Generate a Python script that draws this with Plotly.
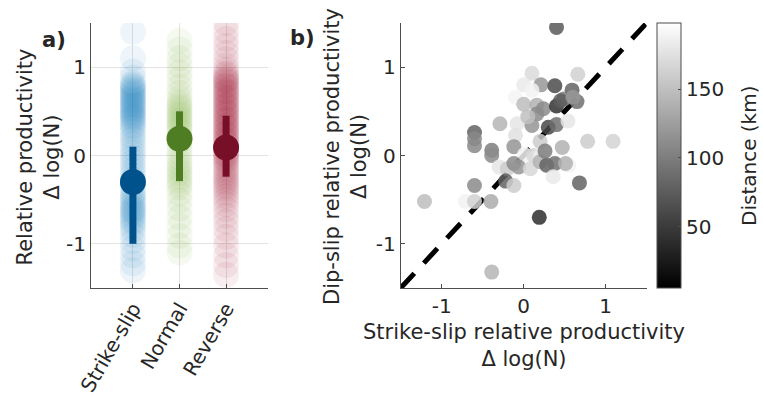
import plotly.graph_objects as go

W, H = 763, 396

# ---------------- Panel a data ----------------
categories = ["Strike-slip", "Normal", "Reverse"]
cat_pos = [1, 2, 3]

strike_slip_vals = [1.40, 1.10, 0.95, 0.88,
                    0.82, 0.80, 0.78, 0.76, 0.74, 0.72, 0.70, 0.68, 0.66, 0.64, 0.62, 0.60,
                    0.58, 0.56, 0.54, 0.52, 0.50, 0.48, 0.46, 0.44, 0.42, 0.40, 0.37, 0.34,
                    0.31, 0.27, 0.22, 0.18, 0.13, 0.08, 0.03, -0.02, -0.07, -0.12, -0.17,
                    -0.22, -0.27, -0.32, -0.37, -0.42, -0.45, -0.48, -0.51, -0.54, -0.57,
                    -0.60, -0.62, -0.64, -0.67, -0.70, -0.73, -0.76, -0.80, -0.84,
                    -0.90, -0.97, -1.05, -1.13, -1.22, -1.30]
normal_vals = [1.30, 1.20, 1.10, 1.02, 0.94, 0.86, 0.78, 0.71, 0.65,
               0.60, 0.57, 0.54, 0.51, 0.48, 0.45, 0.42, 0.39, 0.36, 0.33, 0.30, 0.27,
               0.22, 0.16, 0.10, 0.04, -0.02,
               -0.08, -0.12, -0.16, -0.20, -0.24, -0.28, -0.32, -0.36,
               -0.43, -0.51, -0.60, -0.70, -0.80, -0.91, -1.02, -1.10]
reverse_vals = [1.50, 1.41, 1.32, 1.24, 1.16, 1.09, 1.02, 0.97,
                0.93, 0.91, 0.88, 0.86, 0.85, 0.83, 0.80, 0.79, 0.77, 0.74, 0.73, 0.71,
                0.69, 0.66, 0.65, 0.63, 0.61, 0.58, 0.57, 0.55, 0.53, 0.50, 0.49, 0.47,
                0.45, 0.42, 0.41, 0.39, 0.37, 0.34, 0.33, 0.31, 0.29, 0.26, 0.25, 0.23,
                0.21, 0.18, 0.17, 0.15, 0.13, 0.10, 0.09, 0.07, 0.05, 0.02, 0.01, -0.01,
                -0.04, -0.05, -0.08, -0.11, -0.14, -0.17, -0.20, -0.23, -0.26, -0.29,
                -0.32, -0.35, -0.38, -0.42, -0.46, -0.50,
                -0.55, -0.61, -0.68, -0.75, -0.83, -0.92, -1.02, -1.13, -1.24, -1.35]
group_means = [-0.30, 0.19, 0.09]
group_lo = [-1.00, -0.29, -0.24]
group_hi = [0.10, 0.50, 0.45]

light_colors = ["rgb(0,114,189)", "rgb(119,172,48)", "rgb(162,20,47)"]
dark_colors = ["rgb(0,82,140)", "rgb(79,125,35)", "rgb(120,15,40)"]

# ---------------- Panel b data ----------------
ss_x = [0.40, 0.10, 0.66, 0.21, 0.38, 0.00, 0.10, 0.59, -0.10, 0.00, 0.16, 0.24, 0.40, 0.49,
        0.65, 0.16, -0.29, -0.08, 0.10, 0.30, 0.40, 0.54, -0.60, -0.60, -0.60, -0.10, 0.20,
        0.78, 1.09, -0.39, -0.39, -0.12, 0.01, 0.12, 0.21, 0.47, -0.30, -0.20, -0.12, -0.06,
        0.08, 0.20, 0.28, 0.38, 0.55, 0.51, 0.36, -0.22, -0.12, -0.60, 0.68, -1.21, -0.71,
        -0.60, -0.40, 0.19, -0.39, 0.45, 0.60, 0.05, 0.26]
ds_y = [1.45, 0.93, 0.92, 0.80, 0.79, 0.80, 0.74, 0.74, 0.66, 0.58, 0.57, 0.53, 0.56, 0.64,
        0.61, 0.47, 0.36, 0.36, 0.34, 0.32, 0.35, 0.39, 0.26, 0.19, 0.11, 0.23, 0.16, 0.16,
        0.16, 0.06, 0.00, 0.10, 0.01, 0.00, 0.00, 0.09, -0.13, -0.15, -0.09, -0.13, -0.15,
        -0.07, -0.11, -0.09, -0.11, -0.09, -0.24, -0.29, -0.34, -0.34, -0.31, -0.52, -0.52,
        -0.52, -0.52, -0.70, -1.32, 0.62, 0.66, 0.44, 0.05]
distance_km = [72, 170, 163, 120, 62, 182, 188, 80, 190, 148, 140, 110, 42, 100, 90, 110,
               142, 178, 118, 60, 90, 178, 80, 108, 108, 175, 160, 160, 165, 100, 110, 118,
               188, 168, 185, 140, 178, 160, 110, 118, 168, 140, 80, 90, 188, 140, 182, 80,
               160, 110, 80, 148, 188, 163, 135, 40, 142, 75, 120, 150, 100]

one_to_one = [-1.5, 1.5]
y_ticks = [-1, 0, 1]
y_tick_text = ["-1", "0", "1"]
cbar_ticks = [50, 100, 150]

FONT = "DejaVu Sans"
TXT = "#262626"
AX = "#4d4d4d"
GRID = "#e3e3e3"

fig = go.Figure()

# Panel a: faint individual values
for vals, pos, col in zip([strike_slip_vals, normal_vals, reverse_vals], cat_pos, light_colors):
    fig.add_trace(go.Scatter(
        x=[pos] * len(vals), y=vals, mode="markers",
        marker=dict(size=26, color=col, opacity=0.07, line=dict(width=0)),
        xaxis="x", yaxis="y", showlegend=False, hoverinfo="skip"))

# Panel a: error bars and means
for pos, m, lo, hi, col in zip(cat_pos, group_means, group_lo, group_hi, dark_colors):
    fig.add_trace(go.Scatter(
        x=[pos, pos], y=[lo, hi], mode="lines",
        line=dict(color=col, width=7), xaxis="x", yaxis="y", showlegend=False))
    fig.add_trace(go.Scatter(
        x=[pos], y=[m], mode="markers",
        marker=dict(size=26, color=col, line=dict(width=0)),
        xaxis="x", yaxis="y", showlegend=False))

# Panel b: 1:1 line
fig.add_trace(go.Scatter(
    x=one_to_one, y=one_to_one, mode="lines",
    line=dict(color="black", width=5, dash="20px,14px"),
    xaxis="x2", yaxis="y2", showlegend=False))

# Panel b: scatter
fig.add_trace(go.Scatter(
    x=ss_x, y=ds_y, mode="markers",
    marker=dict(size=15, color=distance_km, opacity=0.85,
                colorscale=[[0, "black"], [1, "white"]], cmin=5, cmax=198,
                line=dict(width=0),
                colorbar=dict(
                    x=656.7 / W, xanchor="left", thickness=24, xpad=0, ypad=0,
                    lenmode="pixels", len=265, y=1 - 23.3 / H, yanchor="top",
                    tickvals=cbar_ticks, ticks="inside", ticklen=3,
                    tickcolor=AX, outlinecolor=AX, outlinewidth=1,
                    tickfont=dict(family=FONT, size=20, color=TXT))),
    xaxis="x2", yaxis="y2", showlegend=False))

ydom = [1 - 288 / H, 1 - 23 / H]
tf = dict(family=FONT, size=20, color=TXT)

fig.update_layout(
    template="none",
    width=W, height=H, margin=dict(l=0, r=0, t=0, b=0, autoexpand=False),
    paper_bgcolor="white", plot_bgcolor="white",
    font=dict(family=FONT, color=TXT),
    xaxis=dict(domain=[91 / W, 268 / W], range=[0.1, 3.9], tickvals=cat_pos,
               ticktext=categories, tickangle=-60, showgrid=True, gridcolor=GRID,
               zeroline=False, showline=True, linecolor=AX, linewidth=1,
               ticks="inside", ticklen=4, tickcolor=AX, automargin=False,
               tickfont=tf, anchor="y"),
    yaxis=dict(domain=ydom, range=[-1.5, 1.5], tickvals=y_ticks, ticktext=y_tick_text,
               showgrid=True, gridcolor=GRID, zeroline=False, showline=True, linecolor=AX,
               linewidth=1, ticks="", automargin=False, tickfont=tf, anchor="x"),
    xaxis2=dict(domain=[400.7 / W, 646.7 / W], range=[-1.5, 1.5], tickvals=y_ticks,
                ticktext=y_tick_text, showgrid=False, zeroline=False, showline=True,
                linecolor=AX, linewidth=1, ticks="inside", ticklen=4, tickcolor=AX,
                automargin=False, tickfont=tf, anchor="y2"),
    yaxis2=dict(domain=ydom, range=[-1.5, 1.5], tickvals=y_ticks, ticktext=y_tick_text,
                showgrid=False, zeroline=False, showline=True, linecolor=AX, linewidth=1,
                ticks="inside", ticklen=4, tickcolor=AX, automargin=False,
                tickfont=tf, anchor="x2"),
)

ann = [
    dict(text="<b>a)</b>", x=54 / W, y=1 - 40 / H, size=21),
    dict(text="<b>b)</b>", x=302 / W, y=1 - 38 / H, size=21),
    dict(text="Relative productivity<br>Δ log(N)", x=38.5 / W, y=1 - 157 / H, textangle=-90, size=21),
    dict(text="Dip-slip relative productivity<br>Δ log(N)", x=346 / W, y=1 - 157 / H, textangle=-90, size=21),
    dict(text="Strike-slip relative productivity<br>Δ log(N)", x=523.7 / W, y=1 - 345 / H, size=21),
    dict(text="Distance (km)", x=749 / W, y=1 - 156 / H, textangle=-90, size=20),
]
for a in ann:
    sz = a.pop("size")
    fig.add_annotation(xref="paper", yref="paper", showarrow=False,
                       xanchor="center", yanchor="middle",
                       font=dict(family=FONT, size=sz, color=TXT), **a)

fig.write_html("out.html")
